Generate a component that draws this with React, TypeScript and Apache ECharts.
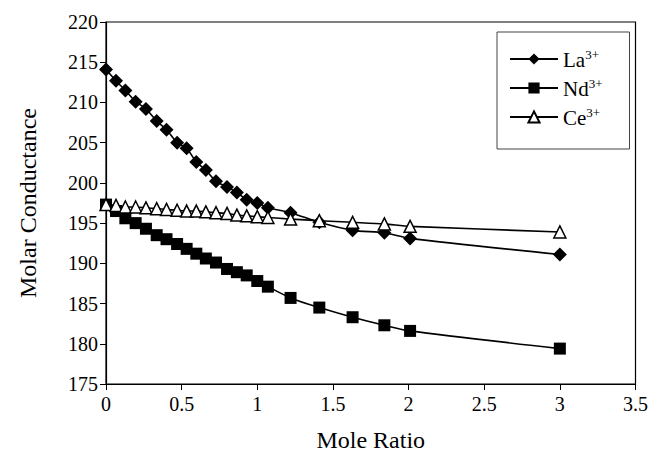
import React, { useEffect, useRef } from "react";
import * as echarts from "echarts";

const moleRatio = [0, 0.066, 0.128, 0.196, 0.264, 0.335, 0.4, 0.47, 0.533, 0.597, 0.66, 0.727, 0.8, 0.865, 0.93, 1.0, 1.07, 1.22, 1.41, 1.63, 1.84, 2.01, 3.0];
const laValues = [214.1, 212.7, 211.5, 210.1, 209.2, 207.7, 206.6, 205.0, 204.3, 202.6, 201.6, 200.2, 199.5, 198.8, 197.9, 197.5, 196.9, 196.3, 195.1, 194.1, 193.8, 193.1, 191.1];
const ndValues = [197.3, 196.5, 195.6, 195.0, 194.3, 193.5, 193.0, 192.4, 191.8, 191.2, 190.6, 190.1, 189.3, 188.9, 188.5, 187.8, 187.1, 185.7, 184.5, 183.3, 182.3, 181.6, 179.4];
const ceValues = [197.3, 197.2, 197.0, 197.0, 196.9, 196.8, 196.7, 196.6, 196.5, 196.5, 196.4, 196.3, 196.2, 196.0, 195.9, 195.8, 195.7, 195.5, 195.3, 195.1, 194.9, 194.6, 193.9];
const seriesNames = ["La", "Nd", "Ce"];
const xTicks = { min: 0, max: 3.5, interval: 0.5 };
const yTicks = { min: 175, max: 220, interval: 5 };

const FONT = "'Liberation Serif', 'Times New Roman', serif";

function pairs(vals: number[]) {
  return moleRatio.map((x, i) => [x, vals[i]]);
}

export default function App() {
  const ref = useRef<HTMLDivElement>(null);
  useEffect(() => {
    if (!ref.current) return;
    const chart = echarts.init(ref.current, null, { renderer: "svg" });
    const lineStyle = { color: "#000", width: 1.6 };
    chart.setOption({
      animation: false,
      backgroundColor: "#fff",
      textStyle: { fontFamily: FONT, color: "#000" },
      grid: {
        left: 106,
        right: 15,
        top: 22,
        bottom: 75,
        show: true,
        borderColor: "#000",
        borderWidth: 1.2,
        backgroundColor: "transparent",
      },
      legend: {
        orient: "vertical",
        left: 497,
        top: 32,
        padding: [16, 27, 21, 12],
        borderColor: "#444",
        borderWidth: 1,
        itemWidth: 48,
        itemHeight: 14,
        itemGap: 7,
        data: seriesNames,
        formatter: (name: string) => `{m|${name}}{s|3+}`,
        textStyle: {
          fontFamily: FONT,
          color: "#000",
          rich: {
            m: { fontFamily: FONT, fontSize: 21, color: "#000", lineHeight: 22, verticalAlign: "bottom" },
            s: { fontFamily: FONT, fontSize: 13, color: "#000", lineHeight: 13, verticalAlign: "top" },
          },
        },
      },
      xAxis: {
        type: "value",
        min: xTicks.min,
        max: xTicks.max,
        interval: xTicks.interval,
        name: "Mole Ratio",
        nameLocation: "middle",
        nameGap: 44,
        nameTextStyle: { fontFamily: FONT, fontSize: 24, color: "#000" },
        axisLine: { show: true, onZero: false, lineStyle: { color: "#000", width: 1.2 } },
        axisTick: { show: true, inside: false, length: 6, lineStyle: { color: "#000" } },
        axisLabel: { fontFamily: FONT, fontSize: 20, color: "#000", margin: 10 },
        splitLine: { show: false },
      },
      yAxis: {
        type: "value",
        min: yTicks.min,
        max: yTicks.max,
        interval: yTicks.interval,
        name: "Molar Conductance",
        nameLocation: "middle",
        nameGap: 66,
        nameTextStyle: { fontFamily: FONT, fontSize: 24, color: "#000" },
        axisLine: { show: true, lineStyle: { color: "#000", width: 1.2 } },
        axisTick: { show: true, inside: false, length: 6, lineStyle: { color: "#000" } },
        axisLabel: { fontFamily: FONT, fontSize: 20, color: "#000", margin: 8 },
        splitLine: { show: false },
      },
      series: [
        {
          name: "La",
          type: "line",
          data: pairs(laValues),
          smooth: 0.25,
          symbol: "diamond",
          symbolSize: 14,
          itemStyle: { color: "#000" },
          lineStyle,
          z: 3,
        },
        {
          name: "Nd",
          type: "line",
          data: pairs(ndValues),
          smooth: 0.25,
          symbol: "rect",
          symbolSize: 12,
          itemStyle: { color: "#000" },
          lineStyle,
          z: 2,
        },
        {
          name: "Ce",
          type: "line",
          data: pairs(ceValues),
          smooth: 0.25,
          symbol: "triangle",
          symbolSize: 12,
          itemStyle: { color: "#fff", borderColor: "#000", borderWidth: 1.5 },
          lineStyle,
          z: 4,
        },
      ],
    });
    return () => chart.dispose();
  }, []);
  return (
    <div
      ref={ref}
      style={{ position: "absolute", left: 0, top: 0, width: 651, height: 459, background: "#fff" }}
    />
  );
}
